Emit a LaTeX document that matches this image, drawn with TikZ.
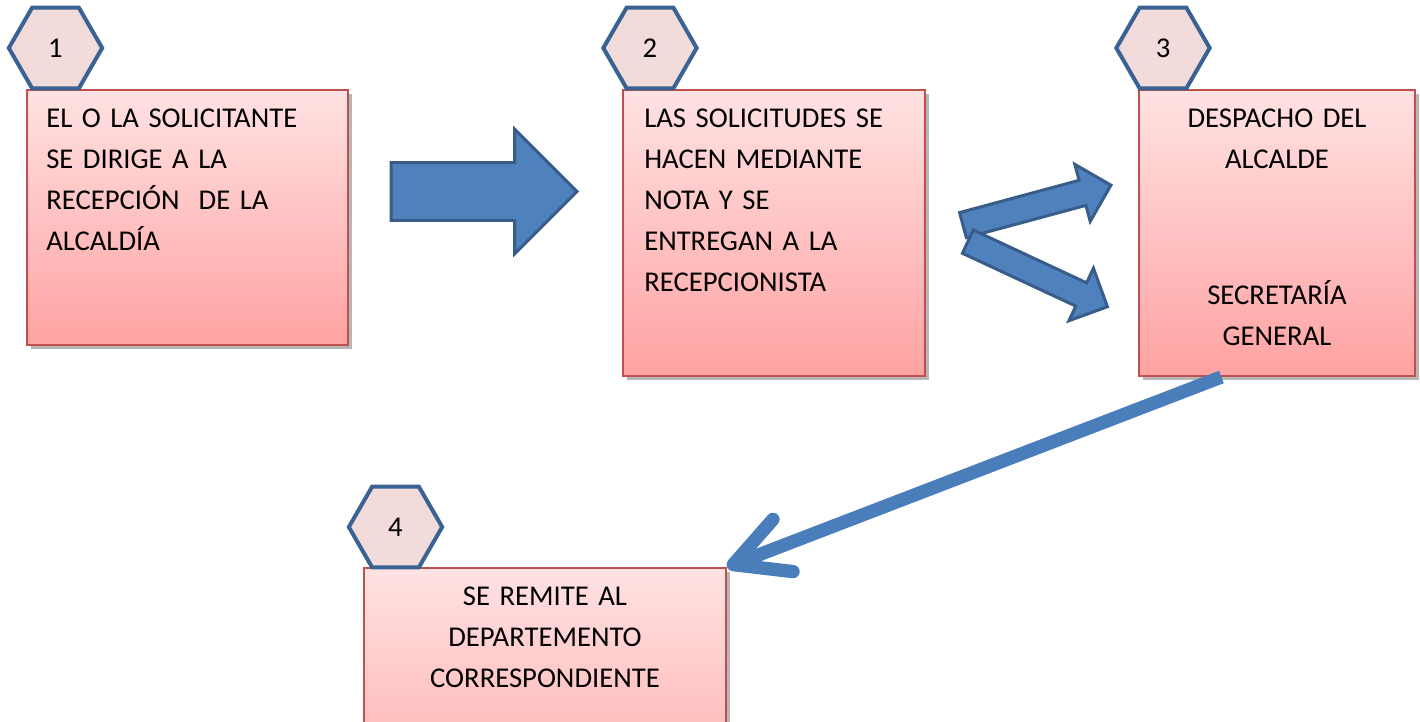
\documentclass[tikz,border=0pt]{standalone}
\usepackage{fontspec}
\setmainfont{Carlito}
\usetikzlibrary{shapes.geometric,shapes.arrows,shadows,arrows.meta,calc}
\definecolor{hexfill}{HTML}{F2DCDB}
\definecolor{hexline}{HTML}{3A6293}
\definecolor{boxline}{HTML}{C0504D}
\definecolor{boxtop}{HTML}{FFE2E2}
\definecolor{boxbottom}{HTML}{FFA2A2}
\definecolor{arrowfill}{HTML}{4F81BD}
\definecolor{arrowline}{HTML}{385D8A}
\definecolor{linkblue}{HTML}{4A7EBB}
\begin{document}
\begin{tikzpicture}[x=0.75pt,y=-0.75pt,
    font=\fontsize{21.5}{30.75}\selectfont,
    stepbox/.style={draw=boxline,line width=1.5pt,top color=boxtop,bottom color=boxbottom,
      drop shadow={shadow xshift=3pt,shadow yshift=-3pt,opacity=0.4,fill=black!70},
      inner sep=0pt},
    badge/.style={regular polygon,regular polygon sides=6,draw=hexline,line width=3pt,
      fill=hexfill,minimum size=70pt,inner sep=0pt},
    lefttext/.style={inner sep=0pt,anchor=base west,text width=#1,align=left},
    midtext/.style={inner sep=0pt,anchor=base,text width=#1,align=center},
    blockarrow/.style={single arrow,draw=arrowline,fill=arrowfill,line width=2.25pt,
      inner xsep=0pt,anchor=tail},
    link/.style={draw=linkblue,line width=10pt,
      -{Straight Barb[length=40pt,width=42pt,round]}}]
  \clip (0,0) rectangle (1420,721);

  \node[stepbox,minimum width=240.75pt,minimum height=191.25pt] (b1) at (187.5,217.5) {};
  \node[stepbox,minimum width=226.5pt,minimum height=214.5pt] (b2) at (774,233) {};
  \node[stepbox,minimum width=207pt,minimum height=214.5pt] (b3) at (1277,233) {};
  \node[stepbox,minimum width=271.5pt,minimum height=214.5pt] (b4) at (545,711) {};

  \node[lefttext=220pt] (t1) at ([xshift=15pt,yshift=-28.5pt]b1.north west)
    {EL O LA SOLICITANTE\\SE DIRIGE A LA\\RECEPCIÓN~ DE LA\\ALCALDÍA};
  \node[lefttext=210pt] (t2) at ([xshift=16.5pt,yshift=-28.5pt]b2.north west)
    {LAS SOLICITUDES SE\\HACEN MEDIANTE\\NOTA Y SE\\ENTREGAN A LA\\RECEPCIONISTA};
  \node[midtext=200pt] (t3) at ([yshift=-28.5pt]b3.north)
    {DESPACHO DEL\\ALCALDE\\[71.25pt]SECRETARÍA\\GENERAL};
  \node[midtext=260pt] (t4) at ([yshift=-28.5pt]b4.north)
    {SE REMITE AL\\DEPARTEMENTO\\CORRESPONDIENTE};

  \node[badge] (h1) at (55.5,48) {1};
  \node[badge] (h2) at (650,48) {2};
  \node[badge] (h3) at (1163,48) {3};
  \node[badge] (h4) at (395.5,527) {4};

  \node[blockarrow,minimum height=139.5pt,inner ysep=20.6pt,
    single arrow head extend=25pt] (a12) at (389.5,191.5) {};
  \node[blockarrow,rotate=15.1,minimum height=115pt,inner ysep=8.6pt,
    single arrow head extend=12.4pt] (a23up) at (961.5,225.5) {};
  \node[blockarrow,rotate=-25,minimum height=115.5pt,inner ysep=8.5pt,
    single arrow head extend=12.1pt] (a23down) at (966.5,241) {};

  \draw[link] ($(b3.south west)!0.3!(b3.south east)$) -- (b4.north east);
\end{tikzpicture}
\end{document}
